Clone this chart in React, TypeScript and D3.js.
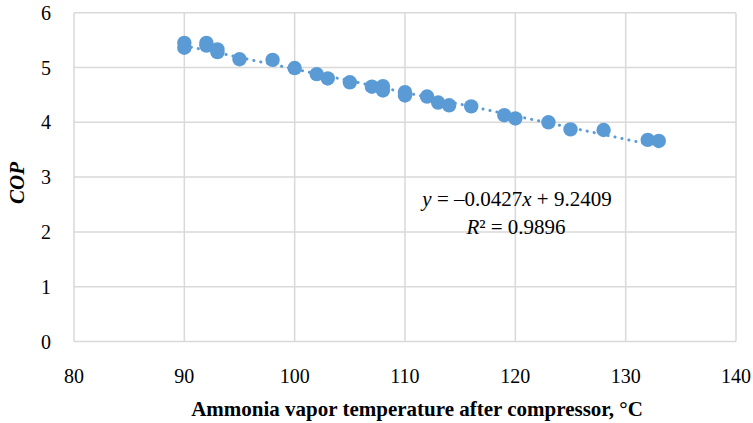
import React from "react";
import * as d3 from "d3";

const tempValues: number[] = [90, 90, 92, 92, 93, 93, 95, 98, 100, 102, 103, 105, 107, 108, 108, 110, 110, 112, 113, 114, 116, 119, 120, 123, 125, 128, 132, 133];
const copValues: number[] = [5.45, 5.36, 5.45, 5.40, 5.33, 5.28, 5.15, 5.14, 4.99, 4.88, 4.80, 4.73, 4.65, 4.66, 4.58, 4.55, 4.49, 4.47, 4.36, 4.31, 4.29, 4.13, 4.07, 4.00, 3.87, 3.86, 3.68, 3.66];
const xTicks: string[] = ["80", "90", "100", "110", "120", "130", "140"];
const yTicks: string[] = ["0", "1", "2", "3", "4", "5", "6"];
const slope = -0.0427;
const intercept = 9.2409;
const rSquared = "0.9896";
const xTitle = "Ammonia vapor temperature after compressor, °C";
const yTitle = "COP";

const W = 753;
const H = 423;
const BLUE = "#5B9BD5";
const FF = "Liberation Serif";

export default function App() {
  const x = d3.scaleLinear().domain([80, 140]).range([74, 736]);
  const y = d3.scaleLinear().domain([0, 6]).range([341.5, 12.7]);
  const xMin = d3.min(tempValues) as number;
  const xMax = d3.max(tempValues) as number;
  const trend = d3.line<number>().x((t) => x(t)).y((t) => y(slope * t + intercept));
  return (
    <svg width={W} height={H} style={{ position: "absolute", left: 0, top: 0, background: "#fff" }}>
      {yTicks.map((t) => (
        <line key={"gy" + t} x1={x(80)} x2={x(140)} y1={y(+t)} y2={y(+t)} stroke="#d9d9d9" strokeWidth={1.5} />
      ))}
      {xTicks.map((t) => (
        <line key={"gx" + t} x1={x(+t)} x2={x(+t)} y1={y(0)} y2={y(6)} stroke="#d9d9d9" strokeWidth={1.5} />
      ))}
      {yTicks.map((t) => (
        <text key={"ly" + t} x={51} y={y(+t) + 7} textAnchor="end" fontSize={20} fill="#000" fontFamily={FF} style={{ fontFamily: FF }}>{t}</text>
      ))}
      {xTicks.map((t) => (
        <text key={"lx" + t} x={x(+t)} y={383} textAnchor="middle" fontSize={20} fill="#000" fontFamily={FF} style={{ fontFamily: FF }}>{t}</text>
      ))}
      <text x={417} y={416} textAnchor="middle" fontSize={21} fontWeight="bold" fill="#000" fontFamily={FF} style={{ fontFamily: FF }}>{xTitle}</text>
      <text transform={`translate(24,${183}) rotate(-90)`} textAnchor="middle" fontSize={21} fontWeight="bold" fontStyle="italic" fill="#000" fontFamily={FF} style={{ fontFamily: FF }}>{yTitle}</text>
      {tempValues.map((t, i) => (
        <circle key={"p" + i} cx={x(t)} cy={y(copValues[i])} r={7.2} fill={BLUE} />
      ))}
      <path d={trend([xMin, xMax]) || ""} fill="none" stroke={BLUE} strokeWidth={3} strokeDasharray="0.1 7" strokeLinecap="round" />
      <text x={517} y={206} textAnchor="middle" fontSize={21} fill="#000" fontFamily={FF} style={{ fontFamily: FF }}>
        <tspan fontStyle="italic">y</tspan> = –0.0427<tspan fontStyle="italic">x</tspan> + 9.2409
      </text>
      <text x={516} y={234} textAnchor="middle" fontSize={21} fill="#000" fontFamily={FF} style={{ fontFamily: FF }}>
        <tspan fontStyle="italic">R</tspan>² = {rSquared}
      </text>
    </svg>
  );
}
